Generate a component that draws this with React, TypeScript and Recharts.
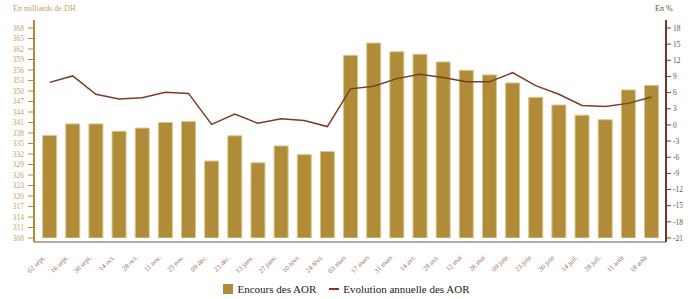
import React from "react";
import { ComposedChart, Bar, Line, XAxis, YAxis, Legend } from "recharts";

const categories = [
  "02 sept.", "16 sept.", "30 sept.", "14 oct.", "28 oct.", "11 nov.", "25 nov.",
  "09 déc.", "23 déc.", "13 janv.", "27 janv.", "10 févr.", "24 févr.", "03 mars",
  "17 mars", "31 mars", "14 avr.", "28 avr.", "12 mai", "26 mai", "09 juin",
  "23 juin", "30 juin", "14 juil.", "28 juil.", "11 août", "18 août",
];

const encours = [
  337.3, 340.6, 340.6, 338.5, 339.4, 341.0, 341.3,
  330.0, 337.2, 329.5, 334.3, 331.8, 332.7, 360.2,
  363.7, 361.2, 360.5, 358.3, 355.9, 354.6, 352.3,
  348.2, 346.0, 343.1, 341.8, 350.3, 351.6,
];

const evolution = [
  7.9, 9.1, 5.7, 4.8, 5.05, 6.05, 5.85,
  0.1, 2.0, 0.3, 1.15, 0.8, -0.3, 6.7,
  7.2, 8.6, 9.4, 8.8, 8.0, 8.0, 9.7,
  7.3, 5.7, 3.6, 3.4, 4.0, 5.2,
];

const leftTicks = [308, 311, 314, 317, 320, 323, 326, 329, 332, 335, 338, 341, 344, 347, 350, 353, 356, 359, 362, 365, 368];
const rightTicks = [-21, -18, -15, -12, -9, -6, -3, 0, 3, 6, 9, 12, 15, 18];

const data = categories.map((c, i) => ({ name: c, encours: encours[i], evolution: evolution[i] }));

const FONT = "Liberation Serif, DejaVu Serif, serif";
const GOLD = "#b08c38";
const BROWN = "#7a3d24";

const XTick = (props: any) => {
  const { x, y, payload } = props;
  return (
    <g transform={`translate(${x - 4},${y + 16})`}>
      <text
        x={0}
        y={0}
        transform="rotate(-45)"
        textAnchor="end"
        fontSize={7}
        fontFamily={FONT}
        fill="#a0705a"
      >
        {payload.value}
      </text>
    </g>
  );
};

const textStyle = { fontFamily: FONT, fontSize: 11, color: "#222" };

const renderLegend = () => (
  <div
    style={{
      display: "flex",
      justifyContent: "center",
      alignItems: "center",
      height: 16,
      ...textStyle,
    }}
  >
    <span style={{ display: "inline-block", width: 10, height: 10, background: GOLD, marginRight: 4 }} />
    <span style={{ ...textStyle, marginRight: 13 }}>Encours des AOR</span>
    <span style={{ display: "inline-block", width: 10, height: 2, background: BROWN, marginRight: 4 }} />
    <span style={textStyle}>Evolution annuelle des AOR</span>
  </div>
);

export default function App() {
  return (
    <div style={{ position: "absolute", left: 0, top: 0, width: 693, height: 299, background: "#fff" }}>
      <div
        style={{
          position: "absolute",
          left: 13,
          top: 4,
          fontFamily: FONT,
          fontSize: 8,
          color: "#c2a060",
        }}
      >
        En milliards de DH
      </div>
      <div
        style={{
          position: "absolute",
          left: 655,
          top: 4,
          fontFamily: FONT,
          fontSize: 8,
          color: "#6b4a3a",
        }}
      >
        En %
      </div>
      <ComposedChart
        width={693}
        height={299}
        data={data}
        margin={{ top: 20, right: 0, bottom: 2, left: 0 }}
        barCategoryGap="20%"
      >
        <XAxis
          dataKey="name"
          interval={0}
          height={39}
          tickSize={0}
          tickMargin={0}
          tickLine={false}
          axisLine={{ stroke: "#bba99c", strokeWidth: 2 }}
          tick={<XTick />}
          padding={{ left: 4, right: 3 }}
        />
        <YAxis
          yAxisId="left"
          orientation="left"
          width={34}
          domain={[308, 368]}
          ticks={leftTicks}
          interval={0}
          allowDataOverflow
          padding={{ top: 8, bottom: 4 }}
          tickSize={6}
          tickMargin={4}
          axisLine={{ stroke: GOLD, strokeWidth: 2 }}
          tickLine={{ stroke: GOLD }}
          tick={{ fontSize: 7.5, fontFamily: FONT, fill: "#c4a462" }}
        />
        <YAxis
          yAxisId="right"
          orientation="right"
          width={27}
          domain={[-21, 18]}
          ticks={rightTicks}
          interval={0}
          allowDataOverflow
          padding={{ top: 8, bottom: 4 }}
          tickSize={5}
          tickMargin={2}
          axisLine={{ stroke: "#6b3a26", strokeWidth: 2 }}
          tickLine={{ stroke: "#6b3a26" }}
          tick={{ fontSize: 7.5, fontFamily: FONT, fill: "#7a4a35" }}
        />
        <Legend verticalAlign="bottom" content={renderLegend} />
        <Bar
          yAxisId="left"
          dataKey="encours"
          name="Encours des AOR"
          fill={GOLD}
          stroke="#d8c68e"
          strokeWidth={1}
          isAnimationActive={false}
        />
        <Line
          yAxisId="right"
          dataKey="evolution"
          name="Evolution annuelle des AOR"
          type="linear"
          stroke={BROWN}
          strokeWidth={1.5}
          dot={false}
          activeDot={false}
          isAnimationActive={false}
        />
      </ComposedChart>
    </div>
  );
}
